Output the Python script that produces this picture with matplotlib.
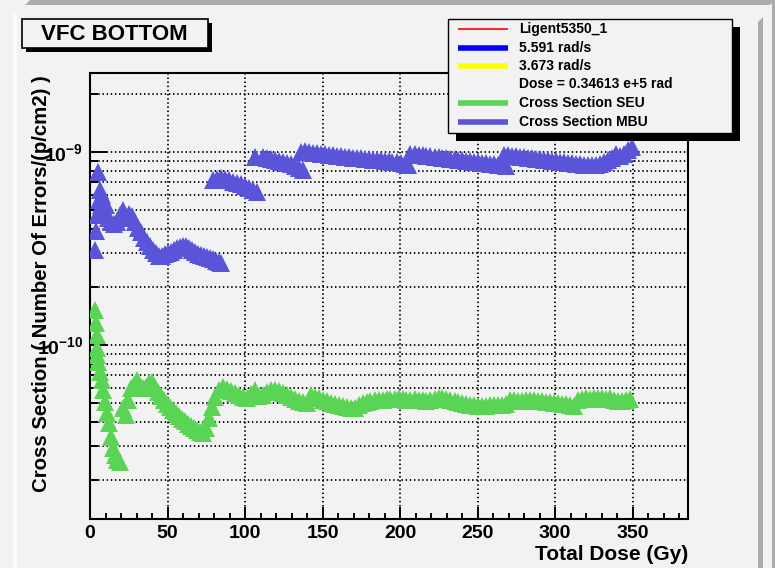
import matplotlib
matplotlib.use('Agg')
import matplotlib.pyplot as plt
import numpy as np
from matplotlib.patches import Rectangle, Polygon
from matplotlib.lines import Line2D
from matplotlib.ticker import LogLocator, MultipleLocator, NullFormatter, FuncFormatter

# MBU cross section vs total dose (Gy), cross section in units of 1e-10
mbu_dose = [
    3.2, 3.9, 4.5, 5.2, 5.8, 6.4, 7.1, 7.7, 9.0, 10.3, 11.6, 13.5, 15.5, 17.4, 19.3,
    21.3, 23.2, 25.1, 27.0, 29.0, 30.9, 32.8, 34.8, 36.7, 38.6, 40.6, 42.5, 44.4, 46.4,
    48.3, 50.2, 52.2, 54.1, 56.0, 58.0, 59.9, 61.8, 63.8, 65.7, 67.6, 69.6, 71.5, 73.4,
    75.4, 77.3, 79.2, 81.1, 83.1, 84.4,
    79.2, 81.8, 84.4, 86.9, 89.5, 92.1, 94.7, 97.2, 99.8, 102.4, 105.0, 107.5,
    106.3, 111.4, 114.0, 116.6, 119.1, 121.7, 124.3, 126.9, 129.4, 132.0, 134.6, 137.2,
    135.9, 138.5, 141.0, 143.6, 146.2, 148.8, 151.3, 153.9, 156.5, 159.1, 161.6, 164.2,
    166.8, 169.4, 171.9, 174.5, 177.1, 179.7, 182.3, 184.8, 187.4, 190.0, 192.6, 195.1,
    197.7, 200.3, 202.9, 205.4,
    206.7, 209.3, 211.9, 214.5, 217.0, 219.6, 222.2, 224.8, 227.3, 229.9, 232.5, 235.1,
    237.6, 240.2, 242.8, 245.4, 247.9, 250.5, 253.1, 255.7, 258.2, 260.8, 263.4, 266.0,
    268.5,
    267.3, 269.8, 272.4, 275.0, 277.6, 280.1, 282.7, 285.3, 287.9, 290.4, 293.0, 295.6,
    298.2, 300.7, 303.3, 305.9, 308.5, 311.1, 313.6, 316.2, 318.8, 321.4, 323.9, 326.5,
    329.1, 331.7, 334.2, 336.8, 339.4, 342.0, 344.5, 347.1, 349.7,
]
mbu_cs = np.array([
    3.11, 3.90, 4.72, 7.88, 5.64, 6.36, 5.31, 5.98, 5.01, 5.31, 4.55, 4.34, 4.24, 4.34, 4.72,
    5.01, 4.55, 4.78, 4.66, 4.34, 4.04, 3.85, 3.58, 3.42, 3.26, 3.11, 3.00, 2.89, 2.89,
    2.96, 3.00, 3.03, 3.11, 3.18, 3.22, 3.26, 3.26, 3.18, 3.11, 3.03, 2.96, 2.92, 2.89,
    2.86, 2.82, 2.79, 2.72, 2.69, 2.66,
    7.16, 7.25, 7.33, 7.25, 7.16, 6.99, 6.91, 6.83, 6.67, 6.51, 6.36, 6.21,
    9.42, 9.42, 9.31, 9.20, 9.09, 8.98, 8.88, 8.77, 8.67, 8.46, 8.26, 8.07,
    10.00, 10.12, 10.00, 9.88, 9.88, 9.76, 9.76, 9.65, 9.65, 9.53, 9.53, 9.42,
    9.42, 9.31, 9.31, 9.31, 9.20, 9.20, 9.09, 9.09, 9.09, 8.98, 8.98, 8.88,
    8.88, 8.77, 8.67, 8.56,
    9.76, 9.76, 9.65, 9.65, 9.53, 9.53, 9.42, 9.42, 9.31, 9.31, 9.20, 9.20,
    9.09, 9.09, 8.98, 8.98, 8.88, 8.88, 8.77, 8.77, 8.67, 8.67, 8.56, 8.56,
    8.46,
    9.65, 9.65, 9.53, 9.53, 9.42, 9.42, 9.31, 9.31, 9.20, 9.20, 9.09, 9.09,
    8.98, 8.98, 8.88, 8.88, 8.77, 8.77, 8.67, 8.67, 8.56, 8.56, 8.56, 8.56,
    8.67, 8.88, 9.09, 9.31, 9.76, 9.53, 9.76, 10.24, 10.61,
]) * 1e-10

# SEU cross section vs total dose (Gy), cross section in units of 1e-10
seu_dose = [
    3.2, 3.9, 4.2, 4.5, 4.8, 5.2, 6.4, 7.7, 8.4, 9.7, 10.9, 12.2, 13.5, 14.8, 16.1, 17.4, 19.3,
    21.2, 23.2, 24.5, 26.4, 28.3, 30.2, 32.2, 34.1, 36.0, 38.0, 39.9, 41.8, 43.8, 45.7,
    47.6, 49.6, 51.5, 53.4, 55.4, 57.3, 59.2, 61.2, 63.1, 65.0, 67.0, 68.9, 70.8, 72.8,
    74.7, 76.6, 78.5, 80.4, 83.0, 85.6, 88.2, 90.7, 93.3, 95.9, 98.5, 101.0, 103.6, 106.2,
    108.8, 111.4, 114.0, 116.6, 119.1, 121.7, 124.3, 126.9, 129.4, 132.0, 134.6, 137.2,
    139.8, 142.3, 144.9, 147.5, 150.0, 152.6, 155.2, 157.8, 160.4, 162.9, 165.5, 168.1,
    170.7, 173.2, 175.8, 178.4, 180.9, 183.5, 186.1, 188.7, 191.3, 193.8, 196.4, 199.0,
    201.6, 204.1, 206.7, 209.3, 211.9, 214.5, 217.0, 219.6, 222.2, 224.8, 227.3, 229.9,
    232.5, 235.1, 237.6, 240.2, 242.8, 245.4, 247.9, 250.5, 253.1, 255.7, 258.2, 260.8,
    263.4, 266.0, 268.5, 271.1, 273.7, 276.3, 278.8, 281.4, 284.0, 286.6, 289.1, 291.7,
    294.3, 296.9, 299.4, 302.0, 304.6, 307.2, 309.8, 312.3, 314.9, 317.5, 320.1, 322.6,
    325.2, 327.8, 330.4, 332.9, 335.5, 338.1, 340.7, 343.2, 345.8, 348.4,
]
seu_cs = np.array([
    1.52, 1.30, 1.13, 0.965, 0.888, 0.816, 0.725, 0.659, 0.585, 0.507, 0.444, 0.395, 0.334,
    0.292, 0.269, 0.253, 0.248,
    0.472, 0.434, 0.519, 0.598, 0.621, 0.659, 0.613, 0.598, 0.606, 0.636, 0.643, 0.606,
    0.571, 0.544, 0.519, 0.495, 0.477, 0.461, 0.444, 0.429, 0.414, 0.404, 0.390, 0.380,
    0.372, 0.363, 0.354, 0.350,
    0.372, 0.419, 0.477, 0.538, 0.585, 0.606, 0.592, 0.578, 0.564, 0.551, 0.538, 0.531,
    0.557, 0.585, 0.544, 0.551, 0.571, 0.585, 0.585, 0.578, 0.564, 0.551, 0.538, 0.525,
    0.513, 0.507, 0.501, 0.551, 0.538, 0.531, 0.519, 0.513, 0.501, 0.495, 0.489, 0.483,
    0.477, 0.472, 0.472, 0.489, 0.501, 0.507, 0.513, 0.519, 0.519, 0.519, 0.525, 0.525,
    0.525, 0.531, 0.525, 0.519, 0.519, 0.525, 0.519, 0.519, 0.513, 0.519, 0.525, 0.531,
    0.531, 0.525, 0.519, 0.513, 0.507, 0.501, 0.495, 0.489, 0.489, 0.483, 0.483, 0.483,
    0.489, 0.489, 0.489, 0.489, 0.495, 0.519, 0.519, 0.513, 0.513, 0.519, 0.519, 0.519,
    0.513, 0.513, 0.507, 0.507, 0.501, 0.501, 0.495, 0.495, 0.489, 0.483, 0.519, 0.525,
    0.531, 0.525, 0.531, 0.531, 0.531, 0.525, 0.531, 0.519, 0.513, 0.513, 0.519, 0.525,
]) * 1e-10

legend_labels = ['Ligent5350_1', '5.591 rad/s', '3.673 rad/s', 'Dose = 0.34613 e+5 rad',
                 'Cross Section SEU', 'Cross Section MBU']

plt.rcParams['font.family'] = ['Liberation Sans', 'DejaVu Sans']
plt.rcParams['font.weight'] = 'bold'
plt.rcParams['mathtext.fontset'] = 'custom'
plt.rcParams['mathtext.rm'] = 'Liberation Sans:bold'
plt.rcParams['mathtext.bf'] = 'Liberation Sans:bold'
plt.rcParams['mathtext.it'] = 'Liberation Sans:bold'

W, H = 775, 568
BG = '#f2f2f2'
GREEN = '#59d454'
PURPLE = '#5954d8'
GRAY = '#ababab'


def fx(px):
    return px / W


def fy(py):
    return 1 - py / H


fig = plt.figure(figsize=(W / 100, H / 100), dpi=100, facecolor=BG)

# canvas bevel borders
fig.add_artist(Polygon([(fx(25), fy(5)), (fx(30), fy(0)), (fx(775), fy(0)), (fx(770), fy(5))],
                       closed=True, transform=fig.transFigure, facecolor=GRAY, edgecolor='none'))
fig.add_artist(Polygon([(fx(758), fy(22)), (fx(763), fy(17)), (fx(763), fy(568)), (fx(758), fy(568))],
                       closed=True, transform=fig.transFigure, facecolor=GRAY, edgecolor='none'))
fig.add_artist(Rectangle((fx(772), 0), 3 / W, 1, transform=fig.transFigure,
                         facecolor=GRAY, edgecolor='none'))
fig.add_artist(Rectangle((fx(13), 0), 4 / W, fy(13), transform=fig.transFigure,
                         facecolor='#fbfbfb', edgecolor='none'))

ax = fig.add_axes([fx(90), fy(519), (688 - 90) / W, (519 - 73) / H], facecolor=BG)

ax.plot(seu_dose, seu_cs, '^', color=GREEN, ms=12.5, mew=0, zorder=3)
ax.plot(mbu_dose, mbu_cs, '^', color=PURPLE, ms=12.5, mew=0, zorder=3)

ax.set_yscale('log')
ax.set_xlim(0, 385.7)
ax.set_ylim(1.254e-11, 2.566e-9)

ax.xaxis.set_major_locator(MultipleLocator(50))
ax.xaxis.set_minor_locator(MultipleLocator(10))
ax.yaxis.set_major_locator(LogLocator(base=10, numticks=10))
ax.yaxis.set_minor_locator(LogLocator(base=10, subs=np.arange(2, 10), numticks=20))
ax.yaxis.set_minor_formatter(NullFormatter())
ax.yaxis.set_major_formatter(FuncFormatter(lambda v, p: r'$\mathbf{10^{%d}}$' % round(np.log10(v))))

ax.set_axisbelow(True)
ax.grid(True, axis='y', which='both', color='black', lw=1.3, linestyle=(0, (0.8, 1.5)))
ax.grid(True, axis='x', which='major', color='black', lw=1.3, linestyle=(0, (0.8, 1.5)))

ax.tick_params(which='both', direction='in', width=1.4, color='black', top=False, right=False)
ax.tick_params(axis='x', which='major', length=9, labelsize=14, pad=4)
ax.tick_params(axis='x', which='minor', length=4.5)
ax.tick_params(axis='y', which='major', length=12, labelsize=14, pad=5)
ax.tick_params(axis='y', which='minor', length=6)
for s in ax.spines.values():
    s.set_linewidth(1.5)

ax.set_xlabel('Total Dose (Gy)', fontsize=15, fontweight='bold', loc='right')
ax.xaxis.set_label_coords(1.0, -0.058)
ax.set_ylabel('Cross Section ( Number Of Errors/(p/cm2) )', fontsize=14.7, fontweight='bold', loc='top')
ax.yaxis.set_label_coords(-0.065, 0.996)

# title box
fig.add_artist(Rectangle((fx(26), fy(52)), 186 / W, 29 / H, transform=fig.transFigure,
                         facecolor='black', edgecolor='none'))
fig.add_artist(Rectangle((fx(22), fy(48)), 186 / W, 29 / H, transform=fig.transFigure,
                         facecolor=BG, edgecolor='black', lw=1.2))
fig.text(fx(114), fy(34), 'VFC BOTTOM', ha='center', va='center', fontsize=16, fontweight='bold')

# legend
fig.add_artist(Rectangle((fx(456), fy(141)), 284 / W, 114 / H, transform=fig.transFigure,
                         facecolor='black', edgecolor='none'))
fig.add_artist(Rectangle((fx(448), fy(133)), 284 / W, 114 / H, transform=fig.transFigure,
                         facecolor=BG, edgecolor='black', lw=1.0))
leg_rows = [29, 48, 66, 84, 103, 122]
leg_colors = ['red', 'blue', 'yellow', None, GREEN, PURPLE]
leg_widths = [1.2, 4, 4, 0, 4, 4]
for lab, yy, c, w in zip(legend_labels, leg_rows, leg_colors, leg_widths):
    if c is not None:
        fig.add_artist(Line2D([fx(458), fx(508)], [fy(yy), fy(yy)], transform=fig.transFigure,
                              color=c, lw=w, solid_capstyle='butt'))
    fig.text(fx(519), fy(yy), lab, ha='left', va='center', fontsize=10, fontweight='bold')

fig.savefig('out.png', dpi=100, facecolor=BG)
